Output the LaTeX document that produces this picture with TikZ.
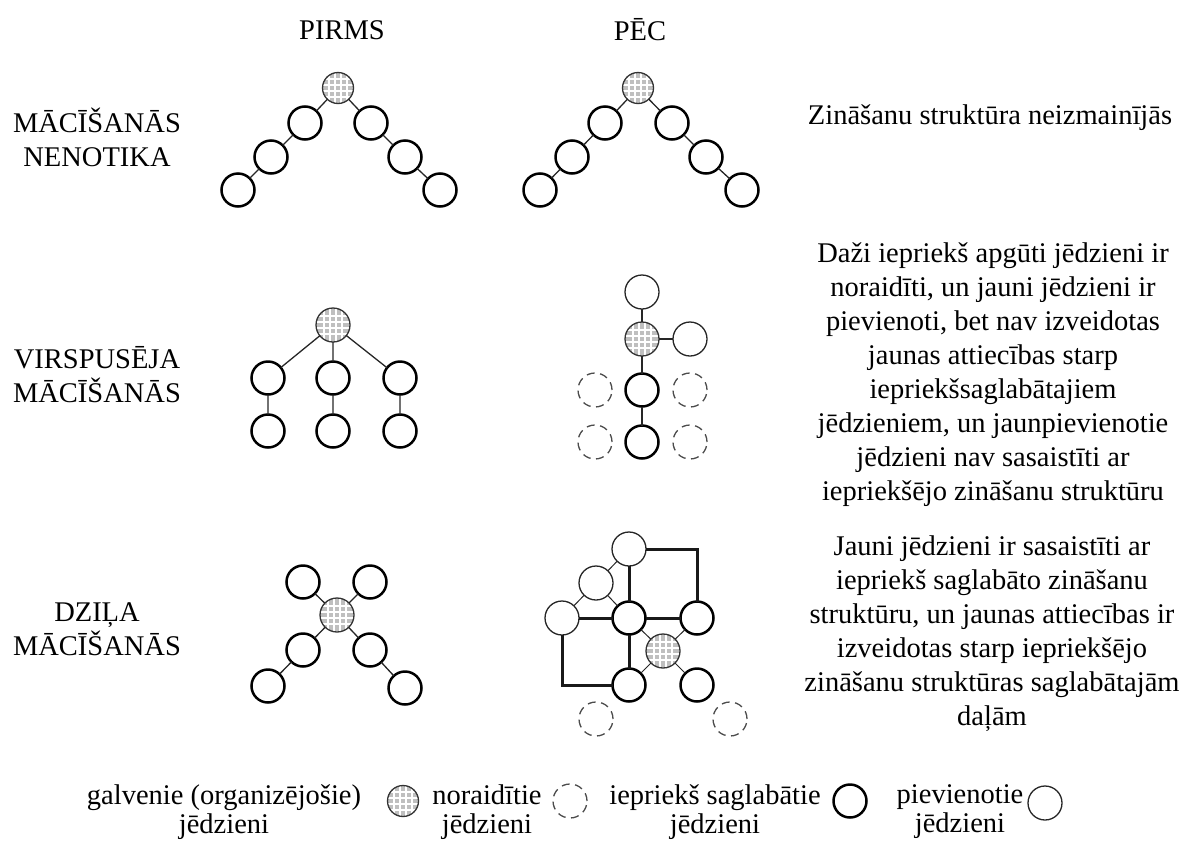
\documentclass[tikz,border=0pt]{standalone}
\usepackage{fontspec}
\setmainfont{Liberation Serif}
\begin{document}
\begin{tikzpicture}[x=1pt,y=-1pt,
  every node/.style={inner sep=0pt, outer sep=0pt},
  txt/.style={font=\fontsize{28.5}{34}\selectfont, align=center},
  legtxt/.style={font=\fontsize{28.5}{29}\selectfont, align=center},
  kept/.style={circle, draw=black, line width=2.5pt, minimum size=33pt, fill=white},
  added/.style={circle, draw=black!85, line width=1.3pt, minimum size=34pt, fill=white},
  dropped/.style={circle, draw=black!70, line width=1.3pt, dash pattern=on 8pt off 5.5pt, minimum size=34pt},
  core/.style={circle, draw=black!80, line width=1.3pt, minimum size=34pt, fill=black!25,
    path picture={\foreach \gk in {-9,-3,3,9}{
      \draw[white, line width=1.4pt] ([xshift=\gk pt]path picture bounding box.north) -- ([xshift=\gk pt]path picture bounding box.south);
      \draw[white, line width=1.4pt] ([yshift=\gk pt]path picture bounding box.west) -- ([yshift=\gk pt]path picture bounding box.east);}}},
  link/.style={line width=1.3pt, draw=black!85},
  heavy/.style={line width=3pt, draw=black!90},
]
\useasboundingbox (0,0) rectangle (1182,841);

% column headings
\node[txt] (hpre) at (342,30) {PIRMS};
\node[txt] (hpost) at (640,30) {PĒC};

% row headings
\node[txt] (r1) at (97,137) {MĀCĪŠANĀS\\NENOTIKA};
\node[txt] (r2) at (97,375) {VIRSPUSĒJA\\MĀCĪŠANĀS};
\node[txt] (r3) at (97,629) {DZIĻA\\MĀCĪŠANĀS};

% row descriptions
\node[txt] (t1) at (990,118) {Zināšanu struktūra neizmainījās};
\node[txt] (t2) at (993,375) {Daži iepriekš apgūti jēdzieni ir\\noraidīti, un jauni jēdzieni ir\\pievienoti, bet nav izveidotas\\jaunas attiecības starp\\iepriekšsaglabātajiem\\jēdzieniem, un jaunpievienotie\\jēdzieni nav sasaistīti ar\\iepriekšējo zināšanu struktūru};
\node[txt] (t3) at (992,634) {Jauni jēdzieni ir sasaistīti ar\\iepriekš saglabāto zināšanu\\struktūru, un jaunas attiecības ir\\izveidotas starp iepriekšējo\\zināšanu struktūras saglabātajām\\daļām};

% ---- row 1, before
\node[core, minimum size=31pt] (a0) at (338,88) {};
\node[kept] (a1) at (305,123) {};
\node[kept] (a2) at (271,157) {};
\node[kept] (a3) at (238,190) {};
\node[kept] (a4) at (371,123) {};
\node[kept] (a5) at (405,157) {};
\node[kept] (a6) at (440,190) {};
\draw[link] (a0) -- (a1) (a1) -- (a2) (a2) -- (a3)
            (a0) -- (a4) (a4) -- (a5) (a5) -- (a6);

% ---- row 1, after
\node[core, minimum size=31pt] (b0) at (638,88) {};
\node[kept] (b1) at (605,123) {};
\node[kept] (b2) at (572,157) {};
\node[kept] (b3) at (540,190) {};
\node[kept] (b4) at (672,123) {};
\node[kept] (b5) at (706,157) {};
\node[kept] (b6) at (742,190) {};
\draw[link] (b0) -- (b1) (b1) -- (b2) (b2) -- (b3)
            (b0) -- (b4) (b4) -- (b5) (b5) -- (b6);

% ---- row 2, before
\node[core] (c0) at (333,325) {};
\node[kept] (c1) at (268,378) {};
\node[kept] (c2) at (333,378) {};
\node[kept] (c3) at (400,378) {};
\node[kept] (c4) at (268,431) {};
\node[kept] (c5) at (333,431) {};
\node[kept] (c6) at (400,431) {};
\draw[link] (c0) -- (c1) (c0) -- (c2) (c0) -- (c3)
            (c1) -- (c4) (c2) -- (c5) (c3) -- (c6);

% ---- row 2, after
\node[core] (d0) at (642,339) {};
\node[added] (dt) at (642,292) {};
\node[added] (dr) at (690,339) {};
\node[kept] (d1) at (642,390) {};
\node[kept] (d2) at (642,442) {};
\node[dropped] (dx1) at (595,390) {};
\node[dropped] (dx2) at (690,390) {};
\node[dropped] (dx3) at (595,442) {};
\node[dropped] (dx4) at (690,442) {};
\draw[link, line width=1.8pt] (dt) -- (d0) (d0) -- (dr) (d0) -- (d1) (d1) -- (d2);

% ---- row 3, before
\node[core] (e0) at (337,615) {};
\node[kept] (e1) at (303,582) {};
\node[kept] (e2) at (370,582) {};
\node[kept] (e3) at (303,650) {};
\node[kept] (e4) at (268,686) {};
\node[kept] (e5) at (370,650) {};
\node[kept] (e6) at (405,688) {};
\draw[link] (e0) -- (e1) (e0) -- (e2) (e0) -- (e3) (e3) -- (e4)
            (e0) -- (e5) (e5) -- (e6);

% ---- row 3, after
\node[added] (ft) at (629,549) {};
\node[added] (fm) at (596,583) {};
\node[added] (fl) at (562,618) {};
\node[kept] (fc) at (629,618) {};
\node[kept] (fr) at (697,618) {};
\node[core] (fg) at (663,651) {};
\node[kept] (fb) at (629,685) {};
\node[kept] (fbr) at (697,685) {};
\node[dropped] (fx1) at (596,719) {};
\node[dropped] (fx2) at (730,719) {};
\draw[link, line width=1pt] (ft) -- (fm) (fm) -- (fl) (fm) -- (fc)
            (fc) -- (fg) (fr) -- (fg) (fg) -- (fb) (fg) -- (fbr);
\draw[heavy] (ft) -- (fc) (fl) -- (fc) (fc) -- (fr) (fc) -- (fb);
\draw[heavy] (ft) -| (fr);
\draw[heavy] (fl) |- (fb);

% ---- legend
\node[legtxt] (l1) at (224,812) {galvenie (organizējošie)\\jēdzieni};
\node[core, minimum size=31pt] (k1) at (403,801) {};
\node[legtxt] (l2) at (487,812) {noraidītie\\jēdzieni};
\node[dropped] (k2) at (570,801) {};
\node[legtxt] (l3) at (715,812) {iepriekš saglabātie\\jēdzieni};
\node[kept] (k3) at (850,801) {};
\node[legtxt] (l4) at (960,812) {pievienotie\\jēdzieni};
\node[added] (k4) at (1045,803) {};
\end{tikzpicture}
\end{document}
